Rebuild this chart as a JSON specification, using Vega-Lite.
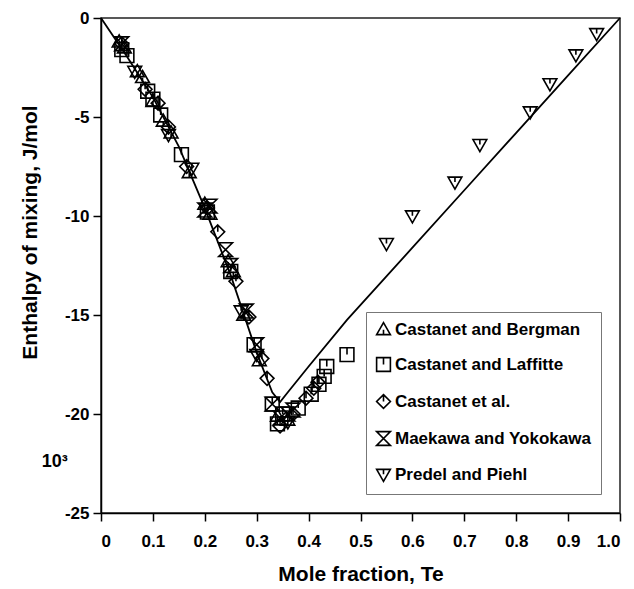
{
  "$schema": "https://vega.github.io/schema/vega-lite/v6.json",
  "width": 519,
  "height": 495,
  "autosize": {"type": "none"},
  "padding": {"left": 101, "top": 18, "right": 14, "bottom": 76},
  "background": "white",
  "config": {
    "font": "Liberation Sans",
    "view": {"stroke": "#222", "strokeWidth": 1.5},
    "axis": {
      "domainColor": "black", "domainWidth": 1.5, "tickColor": "black", "tickWidth": 1.5,
      "tickSize": 8, "grid": false, "labelFont": "Liberation Sans", "labelFontSize": 17,
      "labelFontWeight": "bold", "labelColor": "black", "titleFont": "Liberation Sans",
      "titleFontSize": 21, "titleFontWeight": "bold", "titleColor": "black"
    }
  },
  "datasets": {
    "pts": [
      {"x": 0.035, "y": -1.2, "s": "Castanet and Bergman"},
      {"x": 0.045, "y": -1.5, "s": "Castanet and Bergman"},
      {"x": 0.07, "y": -2.7, "s": "Castanet and Bergman"},
      {"x": 0.08, "y": -3.0, "s": "Castanet and Bergman"},
      {"x": 0.1, "y": -4.2, "s": "Castanet and Bergman"},
      {"x": 0.12, "y": -5.2, "s": "Castanet and Bergman"},
      {"x": 0.135, "y": -5.8, "s": "Castanet and Bergman"},
      {"x": 0.17, "y": -7.8, "s": "Castanet and Bergman"},
      {"x": 0.2, "y": -9.4, "s": "Castanet and Bergman"},
      {"x": 0.21, "y": -9.9, "s": "Castanet and Bergman"},
      {"x": 0.245, "y": -12.3, "s": "Castanet and Bergman"},
      {"x": 0.255, "y": -12.8, "s": "Castanet and Bergman"},
      {"x": 0.275, "y": -15.0, "s": "Castanet and Bergman"},
      {"x": 0.305, "y": -17.3, "s": "Castanet and Bergman"},
      {"x": 0.34, "y": -20.1, "s": "Castanet and Bergman"},
      {"x": 0.36, "y": -20.3, "s": "Castanet and Bergman"},
      {"x": 0.04, "y": -1.6, "s": "Castanet and Laffitte"},
      {"x": 0.05, "y": -1.9, "s": "Castanet and Laffitte"},
      {"x": 0.09, "y": -3.7, "s": "Castanet and Laffitte"},
      {"x": 0.1, "y": -4.1, "s": "Castanet and Laffitte"},
      {"x": 0.115, "y": -4.9, "s": "Castanet and Laffitte"},
      {"x": 0.155, "y": -6.9, "s": "Castanet and Laffitte"},
      {"x": 0.205, "y": -9.8, "s": "Castanet and Laffitte"},
      {"x": 0.25, "y": -12.8, "s": "Castanet and Laffitte"},
      {"x": 0.295, "y": -16.5, "s": "Castanet and Laffitte"},
      {"x": 0.33, "y": -19.5, "s": "Castanet and Laffitte"},
      {"x": 0.34, "y": -20.5, "s": "Castanet and Laffitte"},
      {"x": 0.35, "y": -20.0, "s": "Castanet and Laffitte"},
      {"x": 0.38, "y": -19.7, "s": "Castanet and Laffitte"},
      {"x": 0.405, "y": -19.0, "s": "Castanet and Laffitte"},
      {"x": 0.42, "y": -18.5, "s": "Castanet and Laffitte"},
      {"x": 0.43, "y": -18.1, "s": "Castanet and Laffitte"},
      {"x": 0.435, "y": -17.6, "s": "Castanet and Laffitte"},
      {"x": 0.474, "y": -17.0, "s": "Castanet and Laffitte"},
      {"x": 0.04, "y": -1.3, "s": "Castanet et al."},
      {"x": 0.085, "y": -3.6, "s": "Castanet et al."},
      {"x": 0.11, "y": -4.3, "s": "Castanet et al."},
      {"x": 0.13, "y": -5.5, "s": "Castanet et al."},
      {"x": 0.165, "y": -7.5, "s": "Castanet et al."},
      {"x": 0.205, "y": -9.6, "s": "Castanet et al."},
      {"x": 0.225, "y": -10.8, "s": "Castanet et al."},
      {"x": 0.26, "y": -13.3, "s": "Castanet et al."},
      {"x": 0.285, "y": -15.1, "s": "Castanet et al."},
      {"x": 0.31, "y": -17.2, "s": "Castanet et al."},
      {"x": 0.32, "y": -18.2, "s": "Castanet et al."},
      {"x": 0.345, "y": -20.6, "s": "Castanet et al."},
      {"x": 0.37, "y": -20.0, "s": "Castanet et al."},
      {"x": 0.395, "y": -19.2, "s": "Castanet et al."},
      {"x": 0.41, "y": -18.7, "s": "Castanet et al."},
      {"x": 0.418, "y": -18.4, "s": "Castanet et al."},
      {"x": 0.04, "y": -1.3, "s": "Maekawa and Yokokawa"},
      {"x": 0.2, "y": -9.7, "s": "Maekawa and Yokokawa"},
      {"x": 0.21, "y": -9.5, "s": "Maekawa and Yokokawa"},
      {"x": 0.24, "y": -11.7, "s": "Maekawa and Yokokawa"},
      {"x": 0.25, "y": -12.5, "s": "Maekawa and Yokokawa"},
      {"x": 0.28, "y": -14.8, "s": "Maekawa and Yokokawa"},
      {"x": 0.3, "y": -16.5, "s": "Maekawa and Yokokawa"},
      {"x": 0.33, "y": -19.5, "s": "Maekawa and Yokokawa"},
      {"x": 0.345, "y": -20.2, "s": "Maekawa and Yokokawa"},
      {"x": 0.36, "y": -20.0, "s": "Maekawa and Yokokawa"},
      {"x": 0.37, "y": -19.8, "s": "Maekawa and Yokokawa"},
      {"x": 0.065, "y": -2.7, "s": "Predel and Piehl"},
      {"x": 0.13, "y": -5.9, "s": "Predel and Piehl"},
      {"x": 0.175, "y": -7.6, "s": "Predel and Piehl"},
      {"x": 0.27, "y": -14.8, "s": "Predel and Piehl"},
      {"x": 0.3, "y": -17.0, "s": "Predel and Piehl"},
      {"x": 0.36, "y": -20.4, "s": "Predel and Piehl"},
      {"x": 0.55, "y": -11.4, "s": "Predel and Piehl"},
      {"x": 0.6, "y": -10.0, "s": "Predel and Piehl"},
      {"x": 0.682, "y": -8.3, "s": "Predel and Piehl"},
      {"x": 0.73, "y": -6.4, "s": "Predel and Piehl"},
      {"x": 0.827, "y": -4.75, "s": "Predel and Piehl"},
      {"x": 0.865, "y": -3.33, "s": "Predel and Piehl"},
      {"x": 0.915, "y": -1.87, "s": "Predel and Piehl"},
      {"x": 0.955, "y": -0.8, "s": "Predel and Piehl"}
    ],
    "curve": [
      {"x": 0, "y": 0}, {"x": 0.05, "y": -1.95}, {"x": 0.1, "y": -4.0}, {"x": 0.15, "y": -6.5},
      {"x": 0.2, "y": -9.6}, {"x": 0.25, "y": -13.0}, {"x": 0.3, "y": -16.9}, {"x": 0.33, "y": -18.9},
      {"x": 0.345, "y": -19.4}, {"x": 0.36, "y": -18.9}, {"x": 0.4, "y": -17.6}, {"x": 0.474, "y": -15.25},
      {"x": 0.6, "y": -11.6}, {"x": 0.7, "y": -8.7}, {"x": 0.8, "y": -5.8}, {"x": 0.9, "y": -2.9}, {"x": 1, "y": 0}
    ],
    "note": [{"x": -0.089, "y": -22.4, "t": "10³"}]
  },
  "encoding": {
    "x": {"field": "x", "type": "quantitative",
      "scale": {"domain": [0, 1], "nice": false, "zero": false},
      "axis": {"values": [0, 0.1, 0.2, 0.3, 0.4, 0.5, 0.6, 0.7, 0.8, 0.9, 1.0],
        "labelExpr": "datum.value == 0 ? '0' : format(datum.value, '.1f')",
        "labelPadding": 12, "title": "Mole fraction, Te", "titlePadding": 14}},
    "y": {"field": "y", "type": "quantitative",
      "scale": {"domain": [-25, 0], "nice": false, "zero": false},
      "axis": {"values": [0, -5, -10, -15, -20, -25], "labelExpr": "'' + datum.value", "labelPadding": 4,
        "title": "Enthalpy of mixing, J/mol", "titleX": -71, "titleY": 214,
        "titleAlign": "center", "titleBaseline": "middle", "titleAngle": -90}}
  },
  "layer": [
    {
      "data": {"name": "curve"},
      "mark": {"type": "line", "color": "black", "strokeWidth": 1.8}
    },
    {
      "data": {"name": "pts"},
      "mark": {"type": "point", "filled": false, "color": "black", "strokeWidth": 1.6, "size": 190, "opacity": 1},
      "encoding": {
        "shape": {"field": "s", "type": "nominal",
          "scale": {
            "domain": ["Castanet and Bergman", "Castanet and Laffitte", "Castanet et al.", "Maekawa and Yokokawa", "Predel and Piehl"],
            "range": [
              "M0,-1L1,0.75L-1,0.75Z M0,0.75L0,0.05",
              "M-1,-1L1,-1L1,1L-1,1Z M0,-1L0,0",
              "M0,-1L1,0L0,1L-1,0Z M0,-1L0,0",
              "M-1,-1L1,-1L-1,1L1,1Z",
              "M-1,-0.75L1,-0.75L0,1Z M0,-0.75L0,-0.05"
            ]},
          "legend": {
            "title": null, "orient": "bottom-right", "offset": 19,
            "strokeColor": "#777", "fillColor": "white", "padding": 9,
            "symbolSize": 190, "symbolStrokeColor": "black", "symbolFillColor": "transparent",
            "symbolStrokeWidth": 1.6, "labelFont": "Liberation Sans", "labelFontSize": 17,
            "labelFontWeight": "bold", "labelColor": "black", "rowPadding": 16, "labelOffset": 3,
            "labelLimit": 300
          }}
      }
    },
    {
      "data": {"name": "note"},
      "mark": {"type": "text", "font": "Liberation Sans", "fontSize": 18, "fontWeight": "bold", "color": "black", "align": "center", "baseline": "middle"},
      "encoding": {"text": {"field": "t"}}
    }
  ]
}
